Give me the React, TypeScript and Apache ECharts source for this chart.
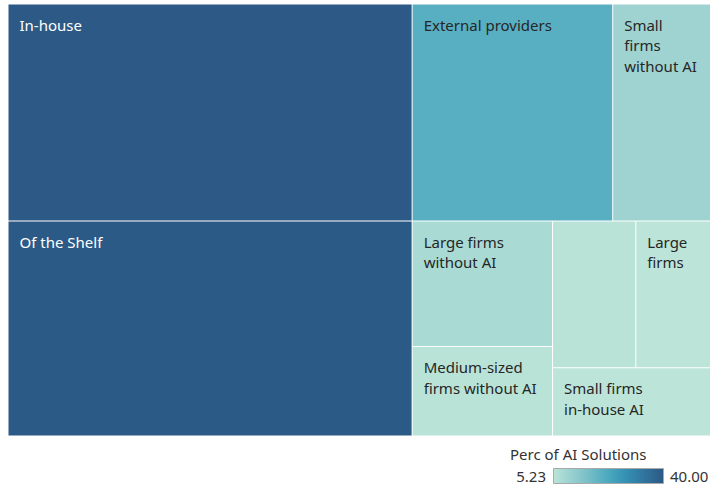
import React, { useEffect, useRef } from "react";
import * as echarts from "echarts";

// ---- data ----
const categories = [
  "In-house",
  "Of the Shelf",
  "External providers",
  "Small firms without AI",
  "Large firms without AI",
  "Medium-sized firms without AI",
  "Medium-sized firms",
  "Large firms",
  "Small firms in-house AI",
];
// size of each tile (relative area)
const areaShare = [40.0, 39.63, 19.85, 9.73, 8.04, 5.73, 5.57, 5.03, 4.94];
// colour measure: Perc of AI Solutions
const percOfAISolutions = [40.0, 39.7, 20.6, 9.9, 8.0, 5.6, 5.45, 5.3, 5.23];
// labels as wrapped in the reference ("" = label hidden, tile too narrow)
const tileLabels = [
  "In-house",
  "Of the Shelf",
  "External providers",
  "Small\nfirms\nwithout AI",
  "Large firms\nwithout AI",
  "Medium-sized\nfirms without AI",
  "",
  "Large\nfirms",
  "Small firms\nin-house AI",
];
const legendTitle = "Perc of AI Solutions";
const legendMin = 5.23;
const legendMax = 40.0;

const palette = [
  "#bce4d8", "#aedcd5", "#a1d5d2", "#95cecf", "#89c8cc", "#7cc1c9",
  "#6ebac6", "#60b3c3", "#52acc1", "#45a4bd", "#3d9bb8", "#3692b3",
  "#3388ae", "#327ea6", "#31759d", "#306b95", "#2e628d", "#2c5985",
];

const FONT = "'Noto Sans', 'Open Sans', sans-serif";

export default function App() {
  const ref = useRef<HTMLDivElement>(null);

  useEffect(() => {
    if (!ref.current) return;
    const chart = echarts.init(ref.current, null, { renderer: "svg" });

    const data = categories.map((name, i) => ({
      name,
      value: [areaShare[i], percOfAISolutions[i]],
      label: {
        color: percOfAISolutions[i] > 30 ? "#ffffff" : "#262626",
      },
    }));

    const labelMap: Record<string, string> = {};
    categories.forEach((c, i) => (labelMap[c] = tileLabels[i]));

    const gradientStops = palette.map((c, i) => ({
      offset: i / (palette.length - 1),
      color: c,
    }));

    chart.setOption({
      animation: false,
      backgroundColor: "#ffffff",
      series: [
        {
          type: "treemap",
          left: 8.5,
          top: 4.5,
          width: 702,
          height: 431,
          roam: false,
          nodeClick: false,
          breadcrumb: { show: false },
          visualDimension: 1,
          squareRatio: 0.5 * (1 + Math.sqrt(5)),
          levels: [
            {
              color: palette,
              colorMappingBy: "value",
              visualMin: legendMin,
              visualMax: legendMax,
              itemStyle: { gapWidth: 1, borderWidth: 0, borderColor: "#ffffff" },
            },
            {
              itemStyle: { borderWidth: 0, gapWidth: 0 },
            },
          ],
          label: {
            show: true,
            position: [11, 10],
            padding: 0,
            fontFamily: FONT,
            fontSize: 15,
            lineHeight: 20.5,
            overflow: "none",
            formatter: (p: any) => labelMap[p.name] ?? p.name,
          },
          emphasis: { disabled: true },
          data,
        },
      ],
      graphic: [
        {
          type: "text",
          x: 510,
          y: 454,
          style: {
            text: legendTitle,
            fontFamily: FONT,
            fontSize: 15,
            fill: "#333333",
            verticalAlign: "middle",
          },
        },
        {
          type: "text",
          x: 546,
          y: 476,
          style: {
            text: legendMin.toFixed(2),
            fontFamily: FONT,
            fontSize: 15,
            fill: "#333333",
            align: "right",
            verticalAlign: "middle",
          },
        },
        {
          type: "rect",
          shape: { x: 553.5, y: 468.5, width: 110, height: 15 },
          style: {
            fill: new echarts.graphic.LinearGradient(0, 0, 1, 0, gradientStops),
            stroke: "#a9a9a9",
            lineWidth: 1,
          },
        },
        {
          type: "text",
          x: 670,
          y: 476,
          style: {
            text: legendMax.toFixed(2),
            fontFamily: FONT,
            fontSize: 15,
            fill: "#333333",
            align: "left",
            verticalAlign: "middle",
          },
        },
      ],
    });

    return () => chart.dispose();
  }, []);

  return (
    <div
      ref={ref}
      style={{ position: "fixed", left: 0, top: 0, width: 710, height: 489 }}
    />
  );
}
